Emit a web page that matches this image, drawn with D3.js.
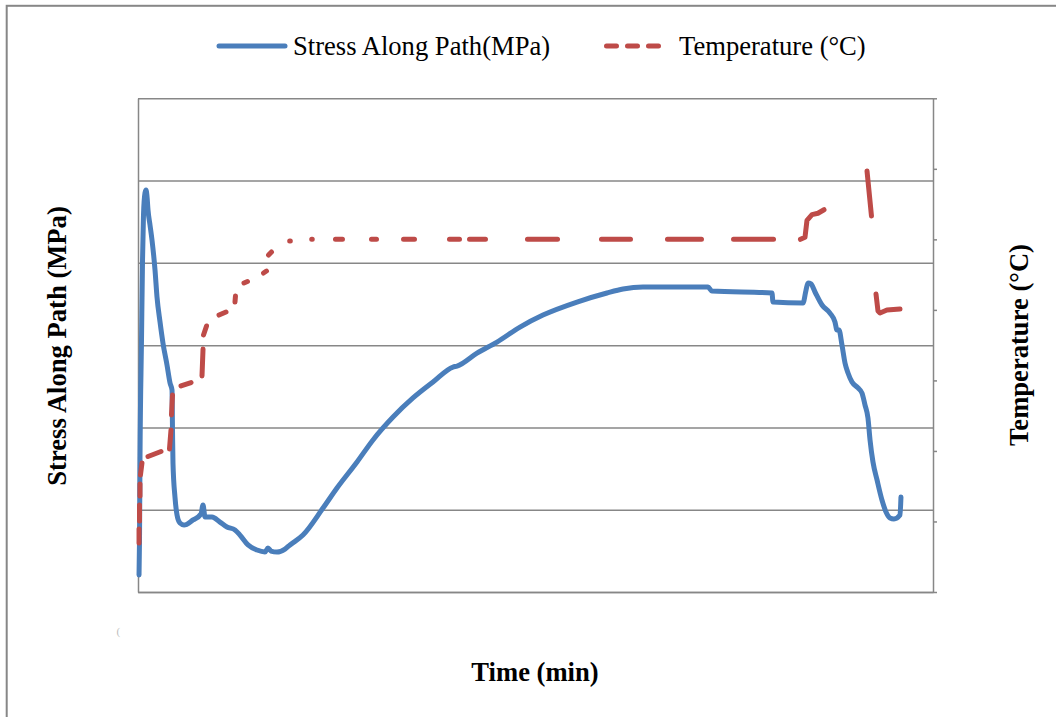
<!DOCTYPE html>
<html>
<head>
<meta charset="utf-8">
<script src="https://cdn.jsdelivr.net/npm/d3@7"></script>
<style>
body { margin: 0; background: #fff; }
text { font-family: "Liberation Serif", "Times New Roman", serif; }
</style>
</head>
<body>
<div id="containerChart"></div>
<script>
// stress along the path (MPa) against time (min)
let stressTime = [0.13, 0.19, 0.25, 0.44, 0.57, 0.69, 0.88, 1.01, 1.13, 1.26, 1.51, 1.76, 2.14, 2.39, 2.77, 3.14, 3.65, 4.03, 4.28, 4.34,
    4.40, 4.65, 4.91, 5.28, 5.79, 6.92, 7.92, 8.18, 8.43, 9.31, 10.31, 11.19, 12.20, 12.83, 13.84, 14.97, 15.97, 16.35, 16.73, 17.48,
    18.49, 19.12, 20.75, 23.27, 25.03, 27.55, 29.56, 32.08, 34.59, 37.11, 39.62, 40.13, 42.64, 45.16, 48.05, 50.94, 55.22, 58.99, 61.01, 63.52,
    65.28, 69.43, 71.70, 72.20, 79.75, 79.87, 83.65, 84.03, 84.28, 84.65, 85.16, 86.04, 87.04, 87.67, 87.92, 88.18, 88.55, 88.93, 89.31, 89.81,
    90.57, 91.07, 91.45, 91.82, 92.08, 92.45, 92.96, 93.58, 94.09, 94.59, 95.09, 95.85, 95.97];
let stressValue = [10.3, 31.6, 80.2, 153.1, 201.7, 229.1, 242.5, 244.3, 240.6, 232.1, 223.0, 213.9, 195.7, 179.3, 164.1, 151.3, 137.9, 127.0, 122.7, 98.4,
    78.4, 57.7, 46.8, 41.9, 40.7, 43.8, 47.4, 52.9, 45.6, 45.6, 42.5, 39.5, 37.7, 34.6, 28.6, 25.5, 24.3, 26.7, 24.9, 24.3,
    26.1, 28.6, 34.6, 51.0, 63.2, 79.0, 92.4, 106.3, 117.9, 127.6, 136.7, 137.3, 145.2, 151.9, 161.0, 168.3, 176.2, 181.7, 184.1, 185.3,
    185.3, 185.3, 185.3, 182.9, 181.7, 176.2, 175.6, 183.5, 187.8, 187.2, 182.3, 174.4, 169.5, 164.1, 159.2, 159.2, 150.1, 139.2, 133.1, 127.6,
    124.0, 120.9, 113.6, 105.7, 92.4, 79.0, 68.1, 55.9, 48.6, 45.0, 44.4, 46.8, 57.7];

// temperature (°C) as it shows in the picture, null where the dashed line leaves a gap
let tempTime = [0.13, 0.13, null, 0.19, 0.19, null, 0.25, 0.25, null, 0.31, 0.50, null, 1.26, 2.89, null, 3.96, 4.15, null,
    4.21, 4.34, null, 5.41, 6.67, null, 8.05, 8.18, null, 8.24, 8.62, null, 10.19, 11.07, null, 12.20, 12.26, null,
    13.33, 13.77, null, 15.79, 16.16, null, 16.42, 16.79, null, 19.08, 19.16, null, 21.85, 21.92, null,
    24.84, 25.72, null, 29.37, 30.00, null, 33.40, 34.78, null, 39.18, 40.44, null, 41.70, 43.71, null,
    48.99, 52.77, null, 58.30, 61.95, null, 66.60, 70.88, null, 74.91, 79.94, null,
    83.33, 83.90, 84.15, 84.78, 85.53, 86.29, null, 91.70, 92.26, null, 92.83, 93.08, 93.33, 94.21, 95.85];
let tempValue = [69.5, 89.3, null, 100.7, 123.4, null, 136.1, 153.1, null, 165.9, 182.9, null, 192.1, 199.2, null, 202.8, 229.7, null,
    251.0, 279.3, null, 292.1, 297.0, null, 306.3, 344.5, null, 364.4, 377.2, null, 392.7, 397.0, null, 411.2, 419.7, null,
    438.1, 440.2, null, 452.3, 455.1, null, 477.8, 482.1, null, 497.7, 497.7, null, 500, 500, null,
    500, 500, null, 500, 500, null, 500, 500, null, 500, 500, null, 500, 500, null,
    500, 500, null, 500, 500, null, 500, 500, null, 500, 500, null,
    500, 503, 527, 535, 537, 542, null, 597, 533, null, 422.5, 398.4, 395.6, 399.8, 401.3];

let stressTicks = [0, 50, 100, 150, 200, 250, 300];
let tempTicks = [0, 100, 200, 300, 400, 500, 600, 700];
let legendLabels = ["Stress Along Path(MPa)", "Temperature (°C)"];
let xTitle = "Time (min)";
let yLeftTitle = "Stress Along Path (MPa)";
let yRightTitle = "Temperature (°C)";

function mainChart() {
    let margin = {top: 98.3, right: 123, bottom: 125, left: 138};
    let W = 1056, H = 717;
    let w = 795, h = 493.7;
    let blue = "#4a7ebb", red = "#be4b48", gridColor = "#878787";
    let titleFont = "bold 26.6px 'Liberation Serif'";
    let legendFont = "26.6px 'Liberation Serif'";
    let lineWidth = 5;

    let svg = d3.select("#containerChart")
        .append("svg")
        .attr("width", W)
        .attr("height", H);

    // chart frame (only top and left edge are inside the picture)
    svg.append("rect")
        .attr("x", 6.7).attr("y", 5.8)
        .attr("width", 1200).attr("height", 900)
        .style("fill", "none")
        .style("stroke", gridColor)
        .style("stroke-width", 2);

    let g = svg.append("g")
        .attr("transform", "translate(" + margin.left + "," + margin.top + ")");

    let x = d3.scaleLinear().domain([0, 100]).range([0, w]);
    let yL = d3.scaleLinear().domain([0, 300]).range([h, 0]);
    let yR = d3.scaleLinear().domain([0, 700]).range([h, 0]);

    // horizontal gridlines
    g.append("g")
        .call(d3.axisLeft(yL).tickValues(stressTicks).tickSize(-w).tickFormat(""))
        .call(a => a.select(".domain").remove());

    // left and bottom axis lines, no labels
    g.append("g")
        .call(d3.axisLeft(yL).tickValues([]).tickSize(0));
    g.append("g")
        .attr("transform", "translate(0," + h + ")")
        .call(d3.axisBottom(x).tickValues([]).tickSize(0));

    // right axis, small outward ticks
    g.append("g")
        .attr("transform", "translate(" + w + ",0)")
        .call(d3.axisRight(yR).tickValues(tempTicks).tickSize(4).tickSizeOuter(0).tickFormat(""));

    g.selectAll(".domain, .tick line")
        .style("stroke", gridColor)
        .style("stroke-width", 1.5);

    let stressData = stressTime.map(function(t, i) { return {t: t, v: stressValue[i]}; });
    let tempData = tempTime.map(function(t, i) { return {t: t, v: tempValue[i]}; });

    let stressLine = d3.line()
        .curve(d3.curveMonotoneX)
        .x(function(d) { return x(d.t); })
        .y(function(d) { return yL(d.v); });

    let tempLine = d3.line()
        .defined(function(d) { return d.v !== null; })
        .x(function(d) { return x(d.t); })
        .y(function(d) { return yR(d.v); });

    g.append("path")
        .datum(stressData)
        .attr("d", stressLine)
        .style("fill", "none")
        .style("stroke", blue)
        .style("stroke-width", lineWidth)
        .style("stroke-linecap", "round")
        .style("stroke-linejoin", "round");

    // secondary axis series sits on top
    g.append("path")
        .datum(tempData)
        .attr("d", tempLine)
        .style("fill", "none")
        .style("stroke", red)
        .style("stroke-width", lineWidth)
        .style("stroke-linecap", "round")
        .style("stroke-linejoin", "round");

    // legend
    let legend = svg.append("g").attr("class", "legend");
    legend.append("line")
        .attr("x1", 219).attr("x2", 285)
        .attr("y1", 46).attr("y2", 46)
        .style("stroke", blue)
        .style("stroke-width", lineWidth)
        .style("stroke-linecap", "round");
    legend.append("line")
        .attr("x1", 606.5).attr("x2", 662)
        .attr("y1", 46).attr("y2", 46)
        .style("stroke", red)
        .style("stroke-width", lineWidth)
        .style("stroke-linecap", "round")
        .style("stroke-dasharray", "10,11");
    legend.selectAll("text")
        .data(legendLabels)
        .enter().append("text")
        .attr("x", function(d, i) { return i == 0 ? 293 : 679; })
        .attr("y", 55)
        .style("font", legendFont)
        .style("fill", "#000")
        .text(function(d) { return d; });

    // axis titles
    svg.append("text")
        .style("font", titleFont)
        .attr("text-anchor", "middle")
        .attr("x", 535).attr("y", 681)
        .text(xTitle);

    svg.append("text")
        .style("font", titleFont)
        .attr("text-anchor", "middle")
        .attr("transform", "translate(66,346) rotate(-90)")
        .text(yLeftTitle);

    svg.append("text")
        .style("font", titleFont)
        .attr("text-anchor", "middle")
        .attr("transform", "translate(1028,345) rotate(-90)")
        .text(yRightTitle);

    // faint leftover mark below the plot
    svg.append("text")
        .style("font", "11px 'Liberation Serif'")
        .style("fill", "#bdbdbd")
        .attr("x", 116.5).attr("y", 635)
        .text("(");
}

mainChart();
</script>
</body>
</html>
